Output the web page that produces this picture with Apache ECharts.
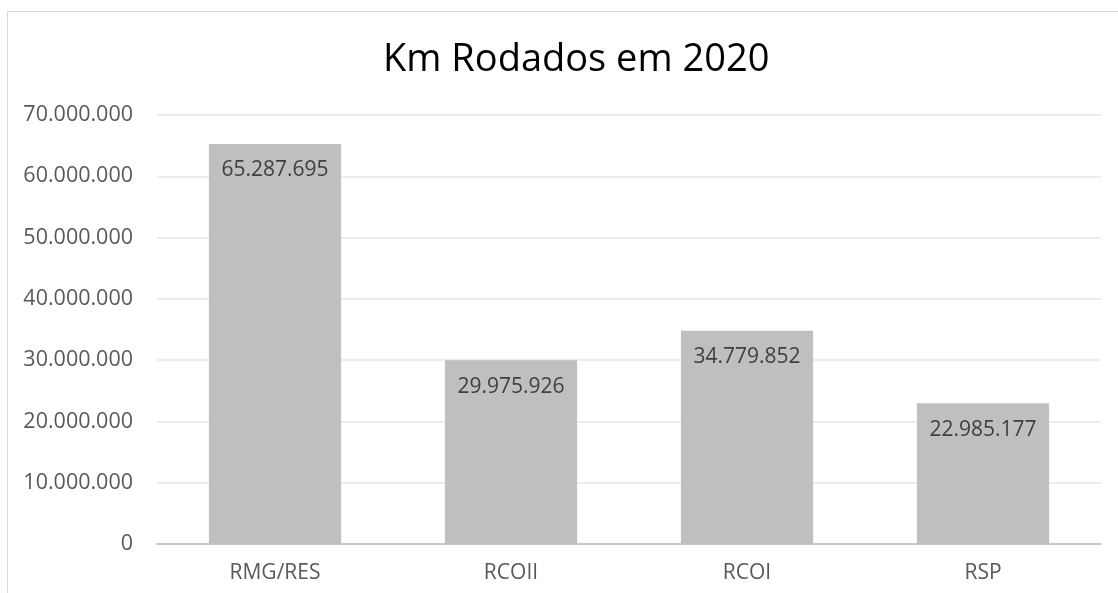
<!DOCTYPE html>
<html>
<head>
<meta charset="utf-8">
<script src="https://cdn.jsdelivr.net/npm/echarts@6/dist/echarts.min.js"></script>
<style>
  html, body { margin: 0; padding: 0; background: #fff; }
  #main { width: 1118px; height: 593px; }
</style>
</head>
<body>
<div id="main"></div>
<script>
// dados do gráfico
const categorias = ['RMG/RES', 'RCOII', 'RCOI', 'RSP'];
const kmRodados = [65287695, 29975926, 34779852, 22985177];
const eixoMin = 0;
const eixoMax = 70000000;
const eixoPasso = 10000000;

function formatarPt(v) { // separador de milhar com ponto
  return String(Math.round(v)).replace(/\B(?=(\d{3})+(?!\d))/g, '.');
}

const chart = echarts.init(document.getElementById('main'), null, { renderer: 'canvas' });

chart.setOption({
  animation: false,
  backgroundColor: '#fff',
  textStyle: { fontFamily: 'Open Sans' },
  graphic: [{ // moldura do gráfico
    type: 'rect',
    shape: { x: 7.5, y: 11.5, width: 1200, height: 700 },
    style: { fill: 'none', stroke: '#d9d9d9', lineWidth: 1 },
    silent: true
  }],
  title: {
    text: 'Km Rodados em 2020',
    left: 378,
    top: 36,
    textStyle: {
      color: '#000',
      fontSize: 38,
      fontWeight: 'normal',
      fontFamily: 'Open Sans'
    }
  },
  grid: {
    left: 157,
    right: 17,
    top: 115,
    bottom: 49,
    containLabel: false
  },
  xAxis: {
    type: 'category',
    data: categorias,
    axisLine: { show: true, lineStyle: { color: '#c8c8c8', width: 2 } },
    axisTick: { show: false },
    axisLabel: { color: '#595959', fontSize: 21, margin: 19 }
  },
  yAxis: {
    type: 'value',
    min: eixoMin,
    max: eixoMax,
    interval: eixoPasso,
    axisLine: { show: false },
    axisTick: { show: false },
    splitLine: { lineStyle: { color: '#ececec', width: 2 } },
    axisLabel: {
      color: '#595959',
      fontSize: 21.5,
      margin: 24,
      formatter: formatarPt
    }
  },
  series: [{
    type: 'bar',
    data: kmRodados,
    barWidth: '56%',
    itemStyle: { color: '#bfbfbf' },
    label: {
      show: true,
      position: 'insideTop',
      distance: 16,
      color: '#404040',
      fontSize: 21,
      formatter: p => formatarPt(p.value)
    }
  }]
});
</script>
</body>
</html>
